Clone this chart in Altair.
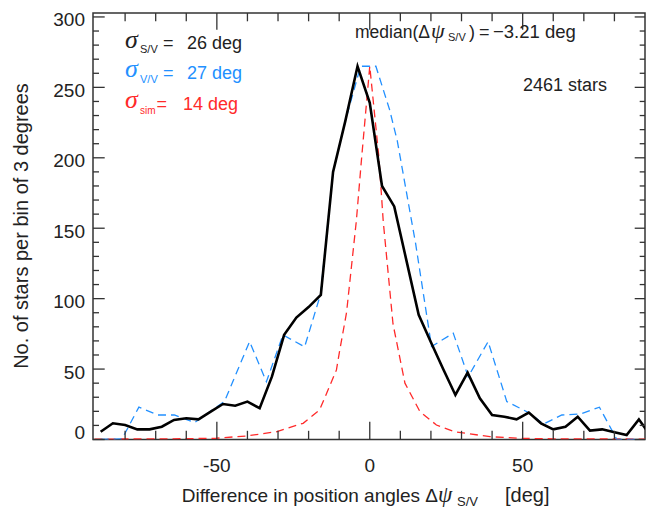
import altair as alt
import pandas as pd

# ---------------- data ----------------
sv_x = [-88, -84, -80, -76, -72, -68, -64, -60, -56, -52, -48, -44, -40, -36, -32,
        -28, -24, -20, -16, -12, -8, -4, 0, 4, 8, 12, 16, 20, 24, 28, 32, 36, 40,
        44, 48, 52, 56, 60, 64, 68, 72, 76, 80, 84, 88, 92]
sv_n = [5.5, 11.5, 10.3, 7.2, 7.2, 9.1, 13.9, 15.1, 14.3, 19.8, 25.2, 24.0, 26.9, 22.2, 44.6,
        74.3, 86.6, 94.0, 102.7, 190.0, 226.0, 265.0, 239.0, 180.0, 165.5, 127.0, 88.5, 69.0, 50.0, 31.6, 47.5, 29.3, 17.4,
        16.2, 14.3, 19.1, 11.5, 7.2, 9.1, 16.2, 6.3, 7.2, 5.1, 3.2, 14.3, 2.0]

vv_x = [-88, -81, -75.5, -69.3, -63.9, -57.3, -47.5, -39.3, -33.8, -28.4, -21.3, -16.1,
        -12, -8, -3, 2, 6.5, 9, 15, 20.2, 27.3, 32.2, 38.7, 44.8, 52.4, 56.8, 62.8,
        68.8, 75.1, 80.8, 88]
vv_n = [0, 0.5, 23, 17.4, 17.4, 12, 27, 69.5, 41, 74.3, 65.8, 103,
        190, 226, 265, 265, 234, 212, 139, 66, 75.5, 44.6, 69.5, 27, 18.6, 11, 17.4,
        18.1, 22.9, 0, 0]

sim_x = [-90, -70, -60, -50.2, -40.4, -30.6, -21.8, -16.4, -10.9, -9.8, -7.6, -4.4, -2.7, 0,
         3, 4.4, 7.6, 11.5, 16.4, 21.8, 27.8, 39.3, 50, 60, 90]
sim_n = [0.3, 0.4, 0.6, 0.9, 2.5, 5.5, 11.5, 21, 49.4, 63.6, 90, 155, 199, 265,
         200, 155, 82, 40, 19.8, 10.3, 5.5, 2, 0.8, 0.5, 0.3]

x_major = [-50, 0, 50]
x_labels = ["-50", "0", "50"]
x_minor = [-80, -70, -60, -40, -30, -20, -10, 10, 20, 30, 40, 60, 70, 80]
y_major = [0, 50, 100, 150, 200, 250, 300]
y_labels = ["0", "50", "100", "150", "200", "250", "300"]
y_minor = [10, 20, 30, 40, 60, 70, 80, 90, 110, 120, 130, 140, 160, 170, 180, 190,
           210, 220, 230, 240, 260, 270, 280, 290]

# ---------------- layout ----------------
W, H = 552, 426.5
xs = alt.Scale(domain=[-90.5, 90], nice=False, zero=False)
ys = alt.Scale(domain=[0, 302.8], nice=False, zero=False)
FONT = "Liberation Sans"
GREEK = "Liberation Serif"
INK = "#222222"
BLUE = "#2290ff"
RED = "#ff2a2a"

sv = pd.DataFrame({"x": sv_x, "n": sv_n})
vv = pd.DataFrame({"x": vv_x, "n": vv_n})
sim = pd.DataFrame({"x": sim_x, "n": sim_n})

def series(df, **mark):
    return alt.Chart(df).mark_line(clip=True, **mark).encode(
        x=alt.X("x:Q", scale=xs, axis=None), y=alt.Y("n:Q", scale=ys, axis=None))

red = series(sim, color=RED, strokeWidth=1.3, strokeDash=[8, 5])
blue = series(vv, color=BLUE, strokeWidth=1.3, strokeDash=[8, 5])
black = series(sv, color="black", strokeWidth=2.6)

# inward ticks (IDL style) on all four sides
TC = "#333333"
def xticks(vals, top_len, bot_len):
    d = pd.DataFrame({"v": vals})
    b = alt.Chart(d).mark_rule(color=TC, strokeWidth=1.3).encode(
        x=alt.X("v:Q", scale=xs, axis=None), y=alt.value(H), y2=alt.value(H - bot_len))
    t = alt.Chart(d).mark_rule(color=TC, strokeWidth=1.3).encode(
        x=alt.X("v:Q", scale=xs, axis=None), y=alt.value(0), y2=alt.value(top_len))
    return [b, t]

def yticks(vals, left_len, right_len):
    d = pd.DataFrame({"v": vals})
    l = alt.Chart(d).mark_rule(color=TC, strokeWidth=1.3).encode(
        y=alt.Y("v:Q", scale=ys, axis=None), x=alt.value(0), x2=alt.value(left_len))
    r = alt.Chart(d).mark_rule(color=TC, strokeWidth=1.3).encode(
        y=alt.Y("v:Q", scale=ys, axis=None), x=alt.value(W - right_len), x2=alt.value(W))
    return [l, r]

ticks = xticks(x_major, 16.7, 17.7) + xticks(x_minor, 8.3, 8.7) + \
    yticks(y_major, 11.7, 10.3) + yticks(y_minor, 6, 5.3)

# tick labels
xl = pd.DataFrame({"v": x_major, "t": x_labels})
yl = pd.DataFrame({"v": y_major, "t": y_labels})
xlab = alt.Chart(xl).mark_text(font=FONT, fontSize=19, color=INK, align="center",
                               baseline="alphabetic").encode(
    x=alt.X("v:Q", scale=xs, axis=None), y=alt.value(459), text="t:N")
ylab = alt.Chart(yl).transform_filter("datum.v > 0").mark_text(
    font=FONT, fontSize=19, color=INK, align="right", baseline="alphabetic", dy=9.5).encode(
    y=alt.Y("v:Q", scale=ys, axis=None), x=alt.value(-8), text="t:N")
ylab0 = alt.Chart(yl).transform_filter("datum.v == 0").mark_text(
    font=FONT, fontSize=19, color=INK, align="right", baseline="alphabetic", dy=-0.7).encode(
    y=alt.Y("v:Q", scale=ys, axis=None), x=alt.value(-8), text="t:N")

dummy = pd.DataFrame({"a": [0]})
def label(txt, x, y, size, color=INK, font=FONT, style="normal", align="left",
          angle=0, baseline="alphabetic"):
    return alt.Chart(dummy).mark_text(
        text=txt, align=align, baseline=baseline, fontSize=size, font=font,
        fontStyle=style, color=color, angle=angle).encode(x=alt.value(x), y=alt.value(y))

texts = [
    # sigma rows
    label("σ", 32, 34.5, 26, INK, GREEK, "italic"),
    label("S/V", 47, 40, 11, INK),
    label("=", 70, 36, 18, INK),
    label("26 deg", 94, 36, 18, INK),
    label("σ", 32, 64, 26, BLUE, GREEK, "italic"),
    label("V/V", 47, 69.5, 11, BLUE),
    label("=", 70, 65.5, 18, BLUE),
    label("27 deg", 94, 65.5, 18, BLUE),
    label("σ", 32, 95, 26, RED, GREEK, "italic"),
    label("sim", 47, 100.5, 10, RED),
    label("=", 63.5, 96.5, 18, RED),
    label("14 deg", 90, 96.5, 18, RED),
    # median
    label("median(Δ", 262, 25, 17.5, INK),
    label("ψ", 338, 25, 22, INK, GREEK, "italic"),
    label("S/V", 355, 28, 11, INK),
    label(")", 376, 25, 18, INK),
    label("=", 386, 25, 18, INK),
    label("−3.21 deg", 400, 25, 18.5, INK),
    # star count
    label("2461 stars", 430, 78, 18, INK),
    # x title
    label("Difference in position angles Δ", 88.7, 489, 19, INK),
    label("ψ", 345, 489, 23, INK, GREEK, "italic"),
    label("S/V", 364, 493, 13, INK),
    label("[deg]", 412, 489, 20, INK),
    # y title
    label("No. of stars per bin of 3 degrees", -71, 213, 20, INK, angle=270,
          align="center", baseline="middle"),
]

chart = alt.layer(red, blue, black, *ticks, xlab, ylab, ylab0, *texts).properties(
    width=W, height=H,
    padding={"left": 85, "top": 5, "right": 14, "bottom": 70},
    autosize=alt.AutoSizeParams(type="none"),
).configure_view(stroke="#333333", strokeWidth=1.5)

chart.save("out.html", embed_options={"renderer": "svg", "actions": False})
